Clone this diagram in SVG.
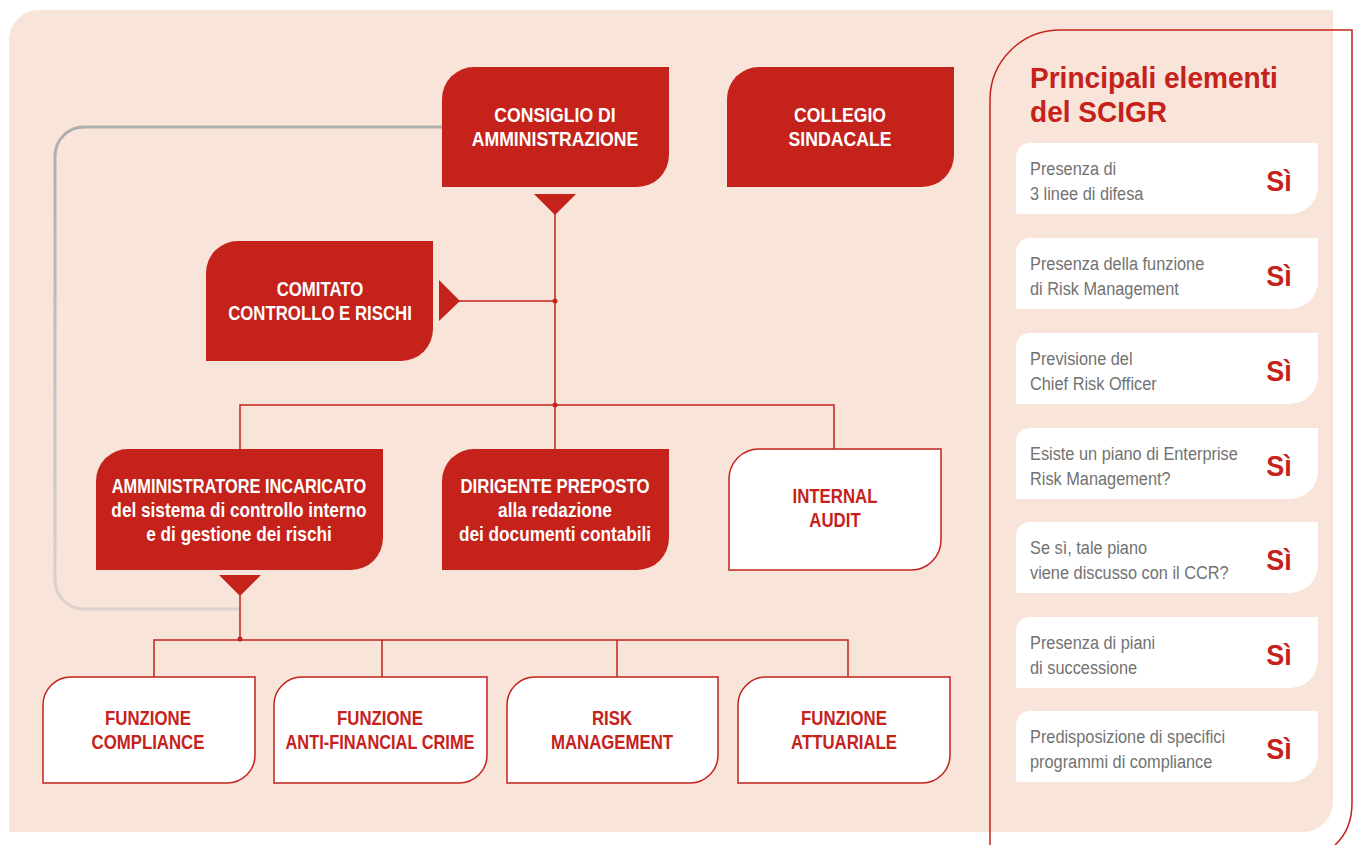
<svg xmlns="http://www.w3.org/2000/svg" width="1355" height="845" viewBox="0 0 1355 845">
<defs>
<style>
.nt{font-family:"Liberation Sans",Arial,sans-serif;font-weight:bold;font-size:21px;text-anchor:middle}
.w{fill:#ffffff}
.r{fill:#C4221B}
.red{fill:#C4221B}
.wn{fill:#ffffff;stroke:#C4221B;stroke-width:1.5}
.ln{fill:none;stroke:#C4221B;stroke-width:1.5}
.card{fill:#ffffff}
.ct{font-family:"Liberation Sans",Arial,sans-serif;font-size:19px;fill:#727272}
.si{font-family:"Liberation Sans",Arial,sans-serif;font-weight:bold;font-size:30px;fill:#C4221B;text-anchor:middle}
.ttl{font-family:"Liberation Sans",Arial,sans-serif;font-weight:bold;font-size:30px;fill:#C4221B}
</style>
<linearGradient id="gl" gradientUnits="userSpaceOnUse" x1="0" y1="127" x2="0" y2="609">
<stop offset="0" stop-color="#aeaeae"/>
<stop offset="1" stop-color="#dbd2cd"/>
</linearGradient>
</defs>
<rect width="1355" height="845" fill="#ffffff"/>
<path d="M39,10 H1333 V802 A30 30 0 0 1 1303,832 H9 V40 A30 30 0 0 1 39,10 Z" fill="#F9E4DA"/>

<g id="connectors">
<path d="M442,127 H84 A29 29 0 0 0 55,156 V580 A29 29 0 0 0 84,609 H240" fill="none" stroke="url(#gl)" stroke-width="3"/>
<polygon class="red" points="534,194 576,194 555,215"/>
<line class="ln" x1="555" y1="212" x2="555" y2="405"/>
<polygon class="red" points="439,280 439,321 460,301"/>
<line class="ln" x1="458" y1="301" x2="555" y2="301"/>
<circle class="red" cx="555" cy="301" r="2.5"/>
<path class="ln" d="M240,449 V405 H834 V449 M555,405 V449"/>
<circle class="red" cx="555" cy="405" r="2.5"/>
<polygon class="red" points="219,575 261,575 240,596"/>
<line class="ln" x1="240" y1="593" x2="240" y2="640"/>
<path class="ln" d="M154,677 V640 H848 V677 M382,640 V677 M617,640 V677"/>
<circle class="red" cx="240" cy="639" r="2.5"/>
</g>

<g id="consiglio">
<path class="r" d="M474,67 H669 V155 A32 32 0 0 1 637,187 H442 V99 A32 32 0 0 1 474,67 Z"/>
<text class="nt w" transform="translate(555 122) scale(0.84 1)">CONSIGLIO DI</text>
<text class="nt w" transform="translate(555 146) scale(0.84 1)">AMMINISTRAZIONE</text>
</g>
<g id="collegio">
<path class="r" d="M759,67 H954 V155 A32 32 0 0 1 922,187 H727 V99 A32 32 0 0 1 759,67 Z"/>
<text class="nt w" transform="translate(840 122) scale(0.84 1)">COLLEGIO</text>
<text class="nt w" transform="translate(840 146) scale(0.84 1)">SINDACALE</text>
</g>
<g id="comitato">
<path class="r" d="M238,241 H433 V329 A32 32 0 0 1 401,361 H206 V273 A32 32 0 0 1 238,241 Z"/>
<text class="nt w" transform="translate(320 296) scale(0.8 1)">COMITATO</text>
<text class="nt w" transform="translate(320 320) scale(0.8 1)">CONTROLLO E RISCHI</text>
</g>
<g id="amministratore">
<path class="r" d="M128,449 H383 V538 A32 32 0 0 1 351,570 H96 V481 A32 32 0 0 1 128,449 Z"/>
<text class="nt w" transform="translate(239 493) scale(0.78 1)">AMMINISTRATORE INCARICATO</text>
<text class="nt w" transform="translate(239 517) scale(0.82 1)">del sistema di controllo interno</text>
<text class="nt w" transform="translate(239 541) scale(0.82 1)">e di gestione dei rischi</text>
</g>
<g id="dirigente">
<path class="r" d="M474,449 H669 V538 A32 32 0 0 1 637,570 H442 V481 A32 32 0 0 1 474,449 Z"/>
<text class="nt w" transform="translate(555 493) scale(0.8 1)">DIRIGENTE PREPOSTO</text>
<text class="nt w" transform="translate(555 517) scale(0.82 1)">alla redazione</text>
<text class="nt w" transform="translate(555 541) scale(0.82 1)">dei documenti contabili</text>
</g>
<g id="internal-audit">
<path class="wn" d="M759,449 H941 V540 A30 30 0 0 1 911,570 H729 V479 A30 30 0 0 1 759,449 Z"/>
<text class="nt r" transform="translate(835 503) scale(0.8 1)">INTERNAL</text>
<text class="nt r" transform="translate(835 527) scale(0.8 1)">AUDIT</text>
</g>
<g id="compliance">
<path class="wn" d="M71,677 H255 V755 A28 28 0 0 1 227,783 H43 V705 A28 28 0 0 1 71,677 Z"/>
<text class="nt r" transform="translate(148 725) scale(0.8 1)">FUNZIONE</text>
<text class="nt r" transform="translate(148 749) scale(0.8 1)">COMPLIANCE</text>
</g>
<g id="anti-financial-crime">
<path class="wn" d="M302,677 H487 V755 A28 28 0 0 1 459,783 H274 V705 A28 28 0 0 1 302,677 Z"/>
<text class="nt r" transform="translate(380 725) scale(0.8 1)">FUNZIONE</text>
<text class="nt r" transform="translate(380 749) scale(0.78 1)">ANTI-FINANCIAL CRIME</text>
</g>
<g id="risk-management">
<path class="wn" d="M535,677 H718 V755 A28 28 0 0 1 690,783 H507 V705 A28 28 0 0 1 535,677 Z"/>
<text class="nt r" transform="translate(612 725) scale(0.8 1)">RISK</text>
<text class="nt r" transform="translate(612 749) scale(0.8 1)">MANAGEMENT</text>
</g>
<g id="attuariale">
<path class="wn" d="M766,677 H950 V755 A28 28 0 0 1 922,783 H738 V705 A28 28 0 0 1 766,677 Z"/>
<text class="nt r" transform="translate(844 725) scale(0.8 1)">FUNZIONE</text>
<text class="nt r" transform="translate(844 749) scale(0.8 1)">ATTUARIALE</text>
</g>

<g id="panel">
<path d="M990,845 V100 A70 70 0 0 1 1060,30 H1352 V803 C1352,822 1346,835 1335,845" fill="none" stroke="#C4221B" stroke-width="1.5"/>
<text class="ttl" transform="translate(1030 88) scale(0.935 1)">Principali elementi</text>
<text class="ttl" transform="translate(1030 122) scale(0.935 1)">del SCIGR</text>
</g>
<g id="card1">
<path class="card" d="M1030,143 H1318 V186 A28 28 0 0 1 1290,214 H1016 V157 A14 14 0 0 1 1030,143 Z"/>
<text class="ct" transform="translate(1030 175) scale(0.86 1)">Presenza di</text>
<text class="ct" transform="translate(1030 200) scale(0.86 1)">3 linee di difesa</text>
<text class="si" transform="translate(1279 191) scale(0.9 1)">Sì</text>
</g>
<g id="card2">
<path class="card" d="M1030,238 H1318 V281 A28 28 0 0 1 1290,309 H1016 V252 A14 14 0 0 1 1030,238 Z"/>
<text class="ct" transform="translate(1030 270) scale(0.86 1)">Presenza della funzione</text>
<text class="ct" transform="translate(1030 295) scale(0.86 1)">di Risk Management</text>
<text class="si" transform="translate(1279 286) scale(0.9 1)">Sì</text>
</g>
<g id="card3">
<path class="card" d="M1030,333 H1318 V376 A28 28 0 0 1 1290,404 H1016 V347 A14 14 0 0 1 1030,333 Z"/>
<text class="ct" transform="translate(1030 365) scale(0.86 1)">Previsione del</text>
<text class="ct" transform="translate(1030 390) scale(0.86 1)">Chief Risk Officer</text>
<text class="si" transform="translate(1279 381) scale(0.9 1)">Sì</text>
</g>
<g id="card4">
<path class="card" d="M1030,428 H1318 V471 A28 28 0 0 1 1290,499 H1016 V442 A14 14 0 0 1 1030,428 Z"/>
<text class="ct" transform="translate(1030 460) scale(0.86 1)">Esiste un piano di Enterprise</text>
<text class="ct" transform="translate(1030 485) scale(0.86 1)">Risk Management?</text>
<text class="si" transform="translate(1279 476) scale(0.9 1)">Sì</text>
</g>
<g id="card5">
<path class="card" d="M1030,522 H1318 V565 A28 28 0 0 1 1290,593 H1016 V536 A14 14 0 0 1 1030,522 Z"/>
<text class="ct" transform="translate(1030 554) scale(0.86 1)">Se sì, tale piano</text>
<text class="ct" transform="translate(1030 579) scale(0.86 1)">viene discusso con il CCR?</text>
<text class="si" transform="translate(1279 570) scale(0.9 1)">Sì</text>
</g>
<g id="card6">
<path class="card" d="M1030,617 H1318 V660 A28 28 0 0 1 1290,688 H1016 V631 A14 14 0 0 1 1030,617 Z"/>
<text class="ct" transform="translate(1030 649) scale(0.86 1)">Presenza di piani</text>
<text class="ct" transform="translate(1030 674) scale(0.86 1)">di successione</text>
<text class="si" transform="translate(1279 665) scale(0.9 1)">Sì</text>
</g>
<g id="card7">
<path class="card" d="M1030,711 H1318 V754 A28 28 0 0 1 1290,782 H1016 V725 A14 14 0 0 1 1030,711 Z"/>
<text class="ct" transform="translate(1030 743) scale(0.86 1)">Predisposizione di specifici</text>
<text class="ct" transform="translate(1030 768) scale(0.86 1)">programmi di compliance</text>
<text class="si" transform="translate(1279 759) scale(0.9 1)">Sì</text>
</g>
</svg>
